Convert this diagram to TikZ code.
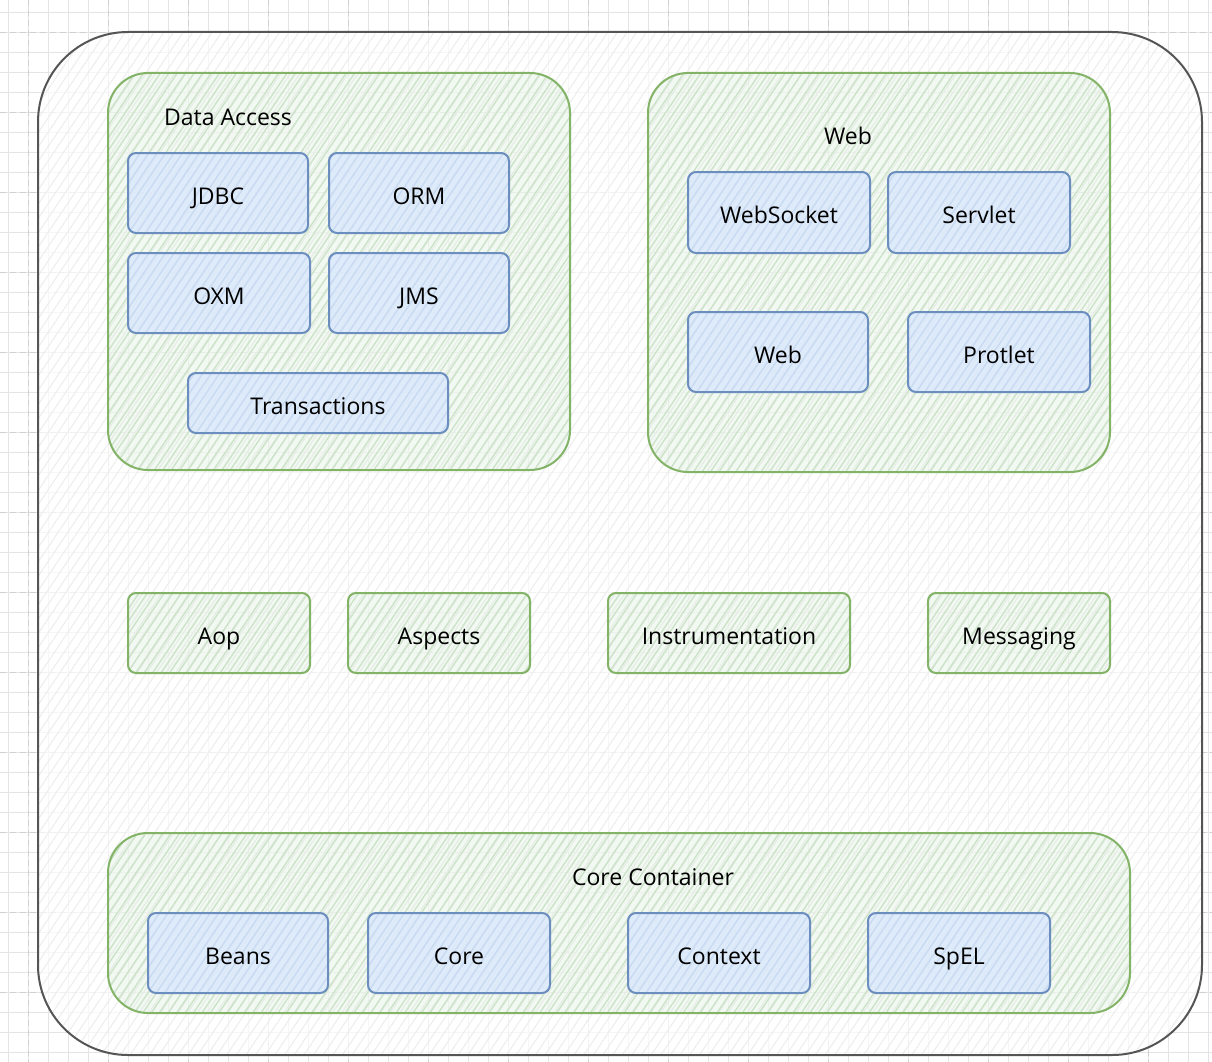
\documentclass[tikz,border=0pt]{standalone}
\usepackage{fontspec}
\setmainfont{Open Sans}
\usetikzlibrary{patterns.meta}
\definecolor{gridminor}{HTML}{E4E4E4}
\definecolor{gridmajor}{HTML}{D0D0D0}
\definecolor{gstroke}{HTML}{82B366}
\definecolor{gfill}{HTML}{D5E8D4}
\definecolor{bstroke}{HTML}{6C8EBF}
\definecolor{bfill}{HTML}{DAE8FC}
\definecolor{ostroke}{HTML}{555555}
\newcommand{\bx}[7]{\node[#2, minimum width={#5-#3}, minimum height={#6-#4}] (#1) at ({(#3+#5)/2},{(#4+#6)/2}) {#7};}
\begin{document}
\begin{tikzpicture}[x=1pt,y=-1pt,
  every node/.style={font=\fontsize{23}{27}\selectfont, text=black, inner sep=0pt, outer sep=0pt, text height=22pt, text depth=0pt},
  outerbox/.style={draw=ostroke, line width=2pt, rounded corners=90pt,
    preaction={fill=white, fill opacity=0.7},
    pattern={Lines[angle=56,distance=8pt,line width=1pt]}, pattern color=gray!14},
  groupbox/.style={draw=gstroke, line width=2pt, rounded corners=40pt,
    preaction={fill=gfill, fill opacity=0.3},
    pattern={Lines[angle=56,distance=7pt,line width=1.4pt]}, pattern color=gfill!90!gstroke},
  gbox/.style={rectangle, draw=gstroke, line width=2pt, rounded corners=8pt,
    preaction={fill=gfill, fill opacity=0.3},
    pattern={Lines[angle=56,distance=7pt,line width=1.4pt]}, pattern color=gfill!90!gstroke},
  bbox/.style={rectangle, draw=bstroke, line width=2pt, rounded corners=8pt,
    preaction={fill=bfill, fill opacity=0.8},
    pattern={Lines[angle=56,distance=7pt,line width=1.4pt]}, pattern color=bfill!85!bstroke},
  title/.style={anchor=center}
]
\useasboundingbox (0,0) rectangle (1212,1062);
\fill[white] (0,0) rectangle (1212,1062);
% grid
\foreach \x in {8,28,...,1212} \draw[gridminor, line width=0.8pt] (\x,0) -- (\x,1062);
\foreach \y in {12,32,...,1062} \draw[gridminor, line width=0.8pt] (0,\y) -- (1212,\y);
\foreach \x in {28,108,...,1212} \draw[gridmajor, line width=0.8pt, dash pattern=on 6pt off 4pt] (\x,0) -- (\x,1062);
\foreach \y in {32,112,...,1062} \draw[gridmajor, line width=0.8pt, dash pattern=on 6pt off 4pt] (0,\y) -- (1212,\y);
% outer
\bx{outer}{outerbox}{38}{32}{1202}{1055}{}
% groups
\bx{dataaccess}{groupbox}{108}{73}{570}{470}{}
\bx{webgroup}{groupbox}{648}{73}{1110}{472}{}
\bx{coregroup}{groupbox}{108}{833}{1130}{1013}{}
\node[title] (datitle) at (228,114) {Data Access};
\node[title] (webtitle) at (848,134) {Web};
\node[title] (coretitle) at (653,874) {Core Container};
% data access
\bx{jdbc}{bbox}{128}{153}{308}{233}{JDBC}
\bx{orm}{bbox}{329}{153}{509}{233}{ORM}
\bx{oxm}{bbox}{128}{253}{310}{333}{OXM}
\bx{jms}{bbox}{329}{253}{509}{333}{JMS}
\bx{trans}{bbox}{188}{373}{448}{433}{Transactions}
% web
\bx{websocket}{bbox}{688}{172}{870}{253}{WebSocket}
\bx{servlet}{bbox}{888}{172}{1070}{253}{Servlet}
\bx{web}{bbox}{688}{312}{868}{392}{Web}
\bx{protlet}{bbox}{908}{312}{1090}{392}{Protlet}
% middle
\bx{aop}{gbox}{128}{593}{310}{673}{Aop}
\bx{aspects}{gbox}{348}{593}{530}{673}{Aspects}
\bx{instr}{gbox}{608}{593}{850}{673}{Instrumentation}
\bx{messaging}{gbox}{928}{593}{1110}{673}{Messaging}
% core
\bx{beans}{bbox}{148}{913}{328}{993}{Beans}
\bx{core}{bbox}{368}{913}{550}{993}{Core}
\bx{context}{bbox}{628}{913}{810}{993}{Context}
\bx{spel}{bbox}{868}{913}{1050}{993}{SpEL}
\end{tikzpicture}
\end{document}
